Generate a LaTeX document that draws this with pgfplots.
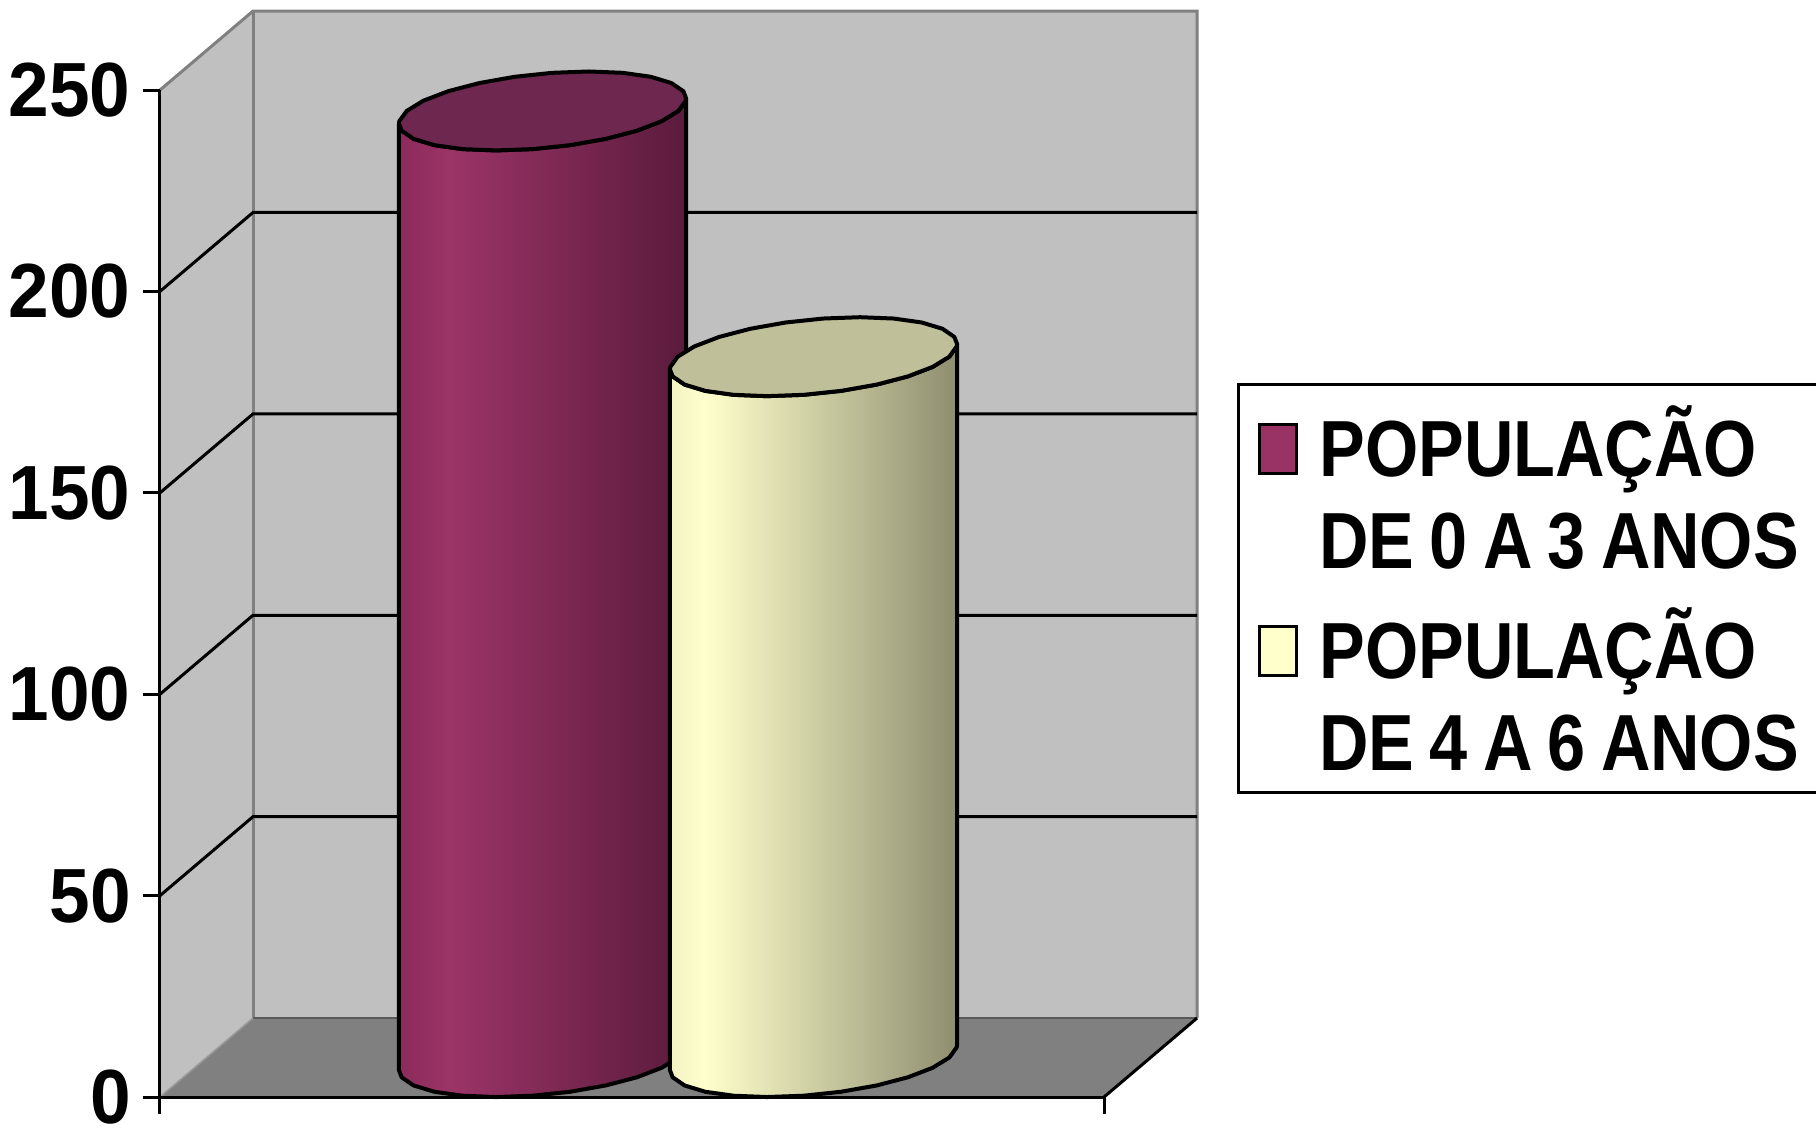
\documentclass[border=0pt]{standalone}
\usepackage{pgfplots}
\pgfplotsset{compat=1.18}
\usepackage{pgfplotstable}
\usepackage{fontspec}
\setmainfont{Liberation Sans}
\newfontfamily\tickfont{Liberation Sans}[FakeStretch=0.95]
\newfontfamily\legfont{Liberation Sans}[FakeStretch=0.86, WordSpace=0.8]
\definecolor{wall}{HTML}{C0C0C0}
\definecolor{floorc}{HTML}{808080}
\definecolor{edge}{HTML}{808080}
\definecolor{magleg}{HTML}{993366}
\definecolor{yelleg}{HTML}{FFFFCC}
\definecolor{magA}{HTML}{8C2B5B}
\definecolor{magB}{HTML}{9B3467}
\definecolor{magC}{HTML}{5A1B3C}
\definecolor{magT}{HTML}{6E274F}
\definecolor{yelA}{HTML}{F2F2C4}
\definecolor{yelB}{HTML}{FFFFCC}
\definecolor{yelC}{HTML}{8E8E70}
\definecolor{yelT}{HTML}{BFBF99}
\pgfdeclarehorizontalshading{magbody}{100bp}{color(0bp)=(magA); color(25bp)=(magA); color(34bp)=(magB); color(75bp)=(magC); color(100bp)=(magC)}
\pgfdeclarehorizontalshading{yelbody}{100bp}{color(0bp)=(yelA); color(25bp)=(yelA); color(31bp)=(yelB); color(75bp)=(yelC); color(100bp)=(yelC)}

% data: series, value, centre of the cylinder (x, screen units)
\pgfplotstableread{
serie valor xc
0 235 542.5
1 174 813.5
}\dados
\pgfplotstablegetelem{0}{valor}\of\dados \let\vA\pgfplotsretval
\pgfplotstablegetelem{1}{valor}\of\dados \let\vB\pgfplotsretval
\pgfplotstablegetelem{0}{xc}\of\dados \let\cA\pgfplotsretval
\pgfplotstablegetelem{1}{xc}\of\dados \let\cB\pgfplotsretval

% outline of a cylinder body (front half of bottom and top ellipses)
\pgfplotstableread{
dx dy lvl
-143.54 -3.17 0
-140.85 -4.90 0
-128.90 -6.93 0
-108.17 -8.49 0
-80.06 -9.47 0
-46.50 -9.80 0
-9.76 -9.47 0
27.63 -8.49 0
63.14 -6.93 0
94.35 -4.90 0
119.14 -2.54 0
135.80 0.00 0
143.20 2.54 0
143.54 3.17 0
143.54 3.17 1
143.20 2.54 1
135.80 0.00 1
119.14 -2.54 1
94.35 -4.90 1
63.14 -6.93 1
27.63 -8.49 1
-9.76 -9.47 1
-46.50 -9.80 1
-80.06 -9.47 1
-108.17 -8.49 1
-128.90 -6.93 1
-140.85 -4.90 1
-143.54 -3.17 1
}\body
% full top ellipse
\pgfplotstableread{
dx dy
135.80 0.00
143.20 2.54
143.54 3.17
140.85 4.90
128.90 6.93
108.17 8.49
80.06 9.47
46.50 9.80
9.76 9.47
-27.63 8.49
-63.14 6.93
-94.35 4.90
-119.14 2.54
-135.80 0.00
-143.20 -2.54
-143.54 -3.17
-140.85 -4.90
-128.90 -6.93
-108.17 -8.49
-80.06 -9.47
-46.50 -9.80
-9.76 -9.47
27.63 -8.49
63.14 -6.93
94.35 -4.90
119.14 -2.54
}\topell

\begin{document}
\begin{tikzpicture}
\begin{axis}[
  x=0.25pt, y=1.007pt,
  xmin=160, xmax=1104, ymin=0, ymax=250,
  clip=false, axis on top,
  axis x line*=bottom, axis y line*=left,
  axis line style={black, line width=0.75pt, -},
  xtick={160,1104}, xticklabels={},
  ytick={0,50,100,150,200,250},
  yticklabels={0,50,100,150,200,250},
  tick align=outside,
  major tick length=4.25pt,
  tick style={black, line width=0.75pt},
  yticklabel style={font=\tickfont\bfseries\fontsize{19.2}{20}\selectfont, inner sep=0pt, xshift=-2.9pt},
  legend style={at={(axis cs:1237,177.3)}, anchor=north west,
    draw=black, line width=0.75pt, fill=white,
    inner xsep=4.75pt, inner ysep=5.2pt, row sep=9.7pt,
    font=\legfont\bfseries\fontsize{19.9}{23}\selectfont,
    nodes={inner sep=0pt, text depth=},
    cells={anchor=base west, align=flush left, text width=125pt},
    /tikz/every odd column/.append style={column sep=5.5pt}},
]
% walls and floor
\addplot[fill=wall, draw=none, forget plot] coordinates {(160,0) (253,19.6) (253,269.6) (160,250)} -- cycle;
\addplot[fill=wall, draw=none, forget plot] coordinates {(253,19.6) (1197,19.6) (1197,269.6) (253,269.6)} -- cycle;
\addplot[fill=floorc, draw=none, forget plot] coordinates {(160,0) (1104,0) (1197,19.6) (253,19.6)} -- cycle;
\addplot[edge, line width=0.75pt, forget plot] coordinates {(160,250) (253,269.6) (1197,269.6) (1197,19.6)};
\addplot[edge, line width=0.75pt, forget plot] coordinates {(253,269.6) (253,19.6)};
\addplot[black!65, line width=0.5pt, forget plot] coordinates {(253,19.6) (1197,19.6)};
\addplot[black!40, line width=0.4pt, forget plot] coordinates {(160,0) (253,19.6)};
\addplot[black, line width=0.75pt, forget plot] coordinates {(1104,0) (1197,19.6)};
% gridlines
\addplot[black, line width=0.75pt, forget plot] coordinates {(160,50) (253,69.6) (1197,69.6)};
\addplot[black, line width=0.75pt, forget plot] coordinates {(160,100) (253,119.6) (1197,119.6)};
\addplot[black, line width=0.75pt, forget plot] coordinates {(160,150) (253,169.6) (1197,169.6)};
\addplot[black, line width=0.75pt, forget plot] coordinates {(160,200) (253,219.6) (1197,219.6)};
% cylinder 1
\addplot[draw=black, line width=1pt, line join=round, shade, shading=magbody, forget plot]
  table[x expr=\thisrow{dx}+\cA, y expr=\thisrow{dy}+9.8+\thisrow{lvl}*\vA] {\body} -- cycle;
\addplot[draw=black, line width=1pt, line join=round, fill=magT, forget plot]
  table[x expr=\thisrow{dx}+\cA, y expr=\thisrow{dy}+9.8+\vA] {\topell} -- cycle;
% cylinder 2
\addplot[draw=black, line width=1pt, line join=round, shade, shading=yelbody, forget plot]
  table[x expr=\thisrow{dx}+\cB, y expr=\thisrow{dy}+9.8+\thisrow{lvl}*\vB] {\body} -- cycle;
\addplot[draw=black, line width=1pt, line join=round, fill=yelT, forget plot]
  table[x expr=\thisrow{dx}+\cB, y expr=\thisrow{dy}+9.8+\vB] {\topell} -- cycle;
% legend
\addlegendimage{legend image code/.code={\draw[black, line width=0.75pt, fill=magleg] (0pt,0.75pt) rectangle (9.25pt,13pt);}}
\addlegendentry{POPULAÇÃO\\DE 0 A 3 ANOS}
\addlegendimage{legend image code/.code={\draw[black, line width=0.75pt, fill=yelleg] (0pt,0.75pt) rectangle (9.25pt,13pt);}}
\addlegendentry{POPULAÇÃO\\DE 4 A 6 ANOS}
\coordinate (BL) at (axis cs:0,-8.4);
\coordinate (TR) at (axis cs:1816,272.35);
\end{axis}
\pgfresetboundingbox
\path[use as bounding box] (BL) rectangle (TR);
\end{tikzpicture}
\end{document}
